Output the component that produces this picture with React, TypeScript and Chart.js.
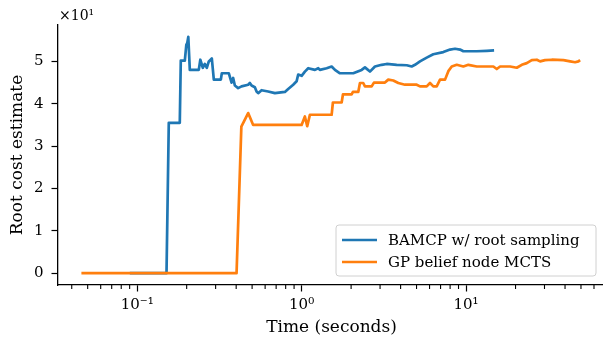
import React, { useEffect, useRef } from 'react';
import { Chart, registerables } from 'chart.js';

Chart.register(...registerables);

// ---- data (values in raw units; axis shows them ×10^1) ----
const SERIES_LABELS = ['BAMCP w/ root sampling', 'GP belief node MCTS'];
const SERIES_COLORS = ['#1f77b4', '#ff7f0e'];

const BLUE_T = [0.0902, 0.1508, 0.1557, 0.1816, 0.1842, 0.1949, 0.199, 0.2018, 0.2046, 0.209, 0.237, 0.2421, 0.2507, 0.2578, 0.2652, 0.2727, 0.2844, 0.2925, 0.3227, 0.3272, 0.361, 0.375, 0.3835, 0.3927, 0.4112, 0.4312, 0.4731, 0.4845, 0.4963, 0.5196, 0.5322, 0.5444, 0.5709, 0.6261, 0.6878, 0.7914, 0.8288, 0.8889, 0.9324, 0.9535, 1.0, 1.047, 1.097, 1.205, 1.262, 1.292, 1.42, 1.523, 1.595, 1.711, 2.061, 2.318, 2.428, 2.604, 2.793, 3.068, 3.291, 3.786, 4.356, 4.672, 4.893, 5.248, 5.766, 6.324, 7.274, 7.991, 8.57, 9.194, 9.629, 11.62, 13.37, 14.81];
const BLUE_V = [0, 0, 35.5, 35.5, 50.2, 50.2, 53.9, 54.4, 55.8, 48.0, 48.0, 50.4, 48.5, 49.4, 48.5, 50.0, 50.7, 45.7, 45.7, 47.2, 47.2, 45.0, 46.1, 44.3, 43.7, 44.1, 44.5, 44.9, 44.3, 43.9, 42.9, 42.5, 43.2, 42.9, 42.5, 42.8, 43.5, 44.5, 45.3, 46.9, 46.6, 47.6, 48.4, 48.0, 48.4, 48.0, 48.4, 48.8, 48.0, 47.2, 47.2, 48.0, 48.6, 47.6, 48.8, 49.2, 49.4, 49.2, 49.1, 48.8, 49.2, 50.0, 50.9, 51.7, 52.2, 52.8, 53.0, 52.8, 52.4, 52.4, 52.5, 52.6];

const ORANGE_T = [0.0458, 0.4022, 0.4301, 0.4731, 0.5074, 1.0, 1.047, 1.082, 1.123, 1.523, 1.55, 1.752, 1.784, 2.015, 2.052, 2.211, 2.264, 2.371, 2.428, 2.667, 2.754, 3.213, 3.366, 3.61, 3.873, 4.254, 5.011, 5.248, 5.766, 6.038, 6.324, 6.633, 6.947, 7.452, 7.805, 8.185, 8.779, 9.629, 10.33, 11.62, 14.66, 15.38, 16.11, 18.53, 20.35, 21.83, 23.41, 25.11, 26.94, 28.21, 30.26, 33.24, 39.1, 42.95, 46.07, 48.25, 49.41];
const ORANGE_V = [0, 0, 34.6, 37.8, 35.0, 35.0, 37.0, 34.7, 37.4, 37.4, 40.3, 40.3, 42.2, 42.2, 42.8, 42.8, 44.9, 44.9, 44.1, 44.1, 45.0, 45.0, 45.7, 45.5, 44.9, 44.5, 44.5, 44.1, 44.1, 44.9, 44.1, 44.1, 45.7, 45.7, 47.7, 48.8, 49.2, 48.8, 49.2, 48.8, 48.8, 48.2, 48.8, 48.8, 48.5, 49.2, 49.6, 50.3, 50.4, 50.0, 50.3, 50.4, 50.3, 50.0, 49.8, 50.0, 50.3];

const X_MAJOR_TICKS = [0.1, 1, 10];
const X_TICK_LABELS = ['10\u207B\u00B9', '10\u2070', '10\u00B9'];
const X_MINOR_TICKS = [0.04, 0.05, 0.06, 0.07, 0.08, 0.09, 0.2, 0.3, 0.4, 0.5, 0.6, 0.7, 0.8, 0.9, 2, 3, 4, 5, 6, 7, 8, 9, 20, 30, 40, 50, 60];
const Y_TICKS = [0, 10, 20, 30, 40, 50];
const Y_TICK_LABELS = ['0', '1', '2', '3', '4', '5'];
const Y_OFFSET_LABEL = '\u00D710\u00B9';
const X_TITLE = 'Time (seconds)';
const Y_TITLE = 'Root cost estimate';

const X_MIN = 0.033;
const X_MAX = 70;
const Y_MIN = -2.8;
const Y_MAX = 58.6;

const FONT = '"DejaVu Serif", serif';

const decorations = {
  id: 'decorations',
  afterDraw(chart: any) {
    const ctx = chart.ctx;
    const xs = chart.scales.x;
    const area = chart.chartArea;
    ctx.save();
    // minor ticks
    ctx.strokeStyle = '#000';
    ctx.lineWidth = 1.1;
    for (const v of X_MINOR_TICKS) {
      const px = xs.getPixelForValue(v);
      if (px < area.left || px > area.right) continue;
      ctx.beginPath();
      ctx.moveTo(px, area.bottom);
      ctx.lineTo(px, area.bottom + 4);
      ctx.stroke();
    }
    // offset label
    ctx.fillStyle = '#000';
    ctx.font = `14px ${FONT}`;
    ctx.textAlign = 'left';
    ctx.textBaseline = 'alphabetic';
    ctx.fillText(Y_OFFSET_LABEL, area.left + 1, 20);
    // legend
    const bx = 336, by = 225, bw = 260, bh = 51, r = 3;
    ctx.beginPath();
    ctx.moveTo(bx + r, by);
    ctx.lineTo(bx + bw - r, by);
    ctx.quadraticCurveTo(bx + bw, by, bx + bw, by + r);
    ctx.lineTo(bx + bw, by + bh - r);
    ctx.quadraticCurveTo(bx + bw, by + bh, bx + bw - r, by + bh);
    ctx.lineTo(bx + r, by + bh);
    ctx.quadraticCurveTo(bx, by + bh, bx, by + bh - r);
    ctx.lineTo(bx, by + r);
    ctx.quadraticCurveTo(bx, by, bx + r, by);
    ctx.closePath();
    ctx.fillStyle = 'rgba(255,255,255,0.85)';
    ctx.fill();
    ctx.strokeStyle = '#d0d0d0';
    ctx.lineWidth = 1;
    ctx.stroke();
    const ds = chart.data.datasets;
    ds.forEach((d: any, i: number) => {
      const y = by + 15 + i * 22;
      ctx.strokeStyle = d.borderColor;
      ctx.lineWidth = 2.7;
      ctx.beginPath();
      ctx.moveTo(bx + 6, y);
      ctx.lineTo(bx + 41, y);
      ctx.stroke();
      ctx.fillStyle = '#000';
      ctx.font = `15px ${FONT}`;
      ctx.textBaseline = 'middle';
      ctx.fillText(d.label, bx + 52, y + 1);
    });
    ctx.restore();
  },
};

export default function App() {
  const ref = useRef<HTMLCanvasElement | null>(null);
  useEffect(() => {
    const canvas = ref.current;
    if (!canvas) return;
    const chart = new Chart(canvas, {
      type: 'line',
      data: {
        datasets: [
          {
            label: SERIES_LABELS[0],
            data: BLUE_T.map((t, i) => ({ x: t, y: BLUE_V[i] })),
            borderColor: SERIES_COLORS[0],
            backgroundColor: SERIES_COLORS[0],
            borderWidth: 2.7,
            pointRadius: 0,
            tension: 0,
            borderJoinStyle: 'round',
            order: 1,
          },
          {
            label: SERIES_LABELS[1],
            data: ORANGE_T.map((t, i) => ({ x: t, y: ORANGE_V[i] })),
            borderColor: SERIES_COLORS[1],
            backgroundColor: SERIES_COLORS[1],
            borderWidth: 2.7,
            pointRadius: 0,
            tension: 0,
            borderJoinStyle: 'round',
            order: 0,
          },
        ],
      },
      options: {
        animation: false,
        responsive: false,
        devicePixelRatio: 1,
        layout: { padding: { top: 25, right: 1, left: 0, bottom: 0 } },
        plugins: {
          legend: { display: false },
          tooltip: { enabled: false },
        },
        scales: {
          x: {
            type: 'logarithmic',
            min: X_MIN,
            max: X_MAX,
            afterBuildTicks: (scale: any) => {
              scale.ticks = X_MAJOR_TICKS.map((v) => ({ value: v, major: false }));
            },
            afterFit: (scale: any) => {
              scale.height = 61;
            },
            ticks: {
              autoSkip: false,
              maxRotation: 0,
              padding: 5,
              color: '#000',
              font: { family: FONT, size: 15 },
              callback: (_v: any, i: number) => X_TICK_LABELS[i],
            },
            grid: {
              display: true,
              drawOnChartArea: false,
              drawTicks: true,
              tickLength: 6.5,
              tickWidth: 1.2,
              tickColor: '#000',
            },
            border: { display: true, color: '#000', width: 1.3 },
            title: {
              display: true,
              text: X_TITLE,
              color: '#000',
              font: { family: FONT, size: 17 },
              padding: { top: 0, bottom: 8 },
            },
          },
          y: {
            type: 'linear',
            min: Y_MIN,
            max: Y_MAX,
            afterBuildTicks: (scale: any) => {
              scale.ticks = Y_TICKS.map((v) => ({ value: v }));
            },
            afterFit: (scale: any) => {
              scale.width = 58;
            },
            ticks: {
              autoSkip: false,
              padding: 8,
              color: '#000',
              font: { family: FONT, size: 15 },
              callback: (_v: any, i: number) => Y_TICK_LABELS[i],
            },
            grid: {
              display: true,
              drawOnChartArea: false,
              drawTicks: true,
              tickLength: 6.5,
              tickWidth: 1.2,
              tickColor: '#000',
            },
            border: { display: true, color: '#000', width: 1.3 },
            title: {
              display: true,
              text: Y_TITLE,
              color: '#000',
              font: { family: FONT, size: 17 },
              padding: { top: 7, bottom: 0 },
            },
          },
        },
      },
      plugins: [decorations],
    } as any);
    return () => chart.destroy();
  }, []);

  return (
    <div style={{ position: 'fixed', left: 0, top: 0, width: 603, height: 346, overflow: 'hidden', background: '#fff' }}>
      <canvas ref={ref} width={606} height={346} style={{ display: 'block', width: 606, height: 346 }} />
    </div>
  );
}
